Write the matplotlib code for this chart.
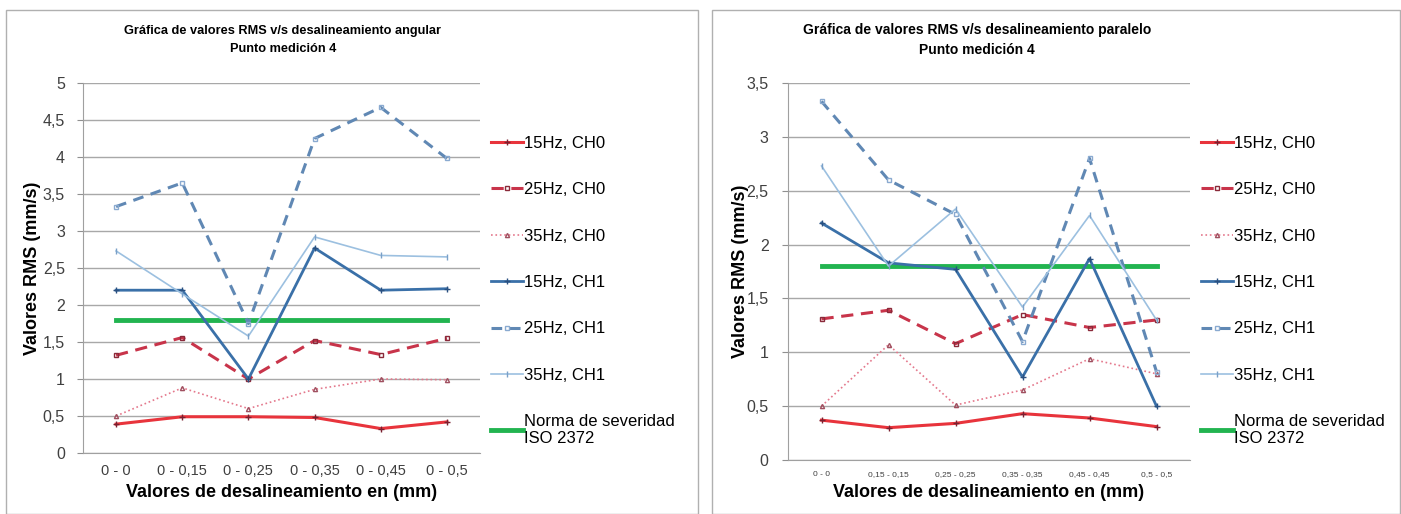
import matplotlib
matplotlib.use("Agg")
import matplotlib.pyplot as plt
from matplotlib.patches import Rectangle
from matplotlib.ticker import FuncFormatter

plt.rcParams['font.family'] = ['Liberation Sans', 'DejaVu Sans']

# angular misalignment chart
ang_labels = ["0 - 0", "0 - 0,15", "0 - 0,25", "0 - 0,35", "0 - 0,45", "0 - 0,5"]
ang_15_ch0 = [0.39, 0.49, 0.49, 0.48, 0.33, 0.42]
ang_25_ch0 = [1.32, 1.56, 1.00, 1.52, 1.33, 1.55]
ang_35_ch0 = [0.50, 0.88, 0.60, 0.86, 1.00, 0.99]
ang_15_ch1 = [2.20, 2.20, 1.00, 2.77, 2.20, 2.22]
ang_25_ch1 = [3.33, 3.65, 1.75, 4.25, 4.67, 3.98]
ang_35_ch1 = [2.73, 2.15, 1.58, 2.92, 2.67, 2.65]

# parallel misalignment chart
par_labels = ["0 - 0", "0,15 - 0,15", "0,25 - 0,25", "0,35 - 0,35", "0,45 - 0,45", "0,5 - 0,5"]
par_15_ch0 = [0.37, 0.30, 0.34, 0.43, 0.39, 0.31]
par_25_ch0 = [1.31, 1.39, 1.08, 1.35, 1.23, 1.30]
par_35_ch0 = [0.50, 1.07, 0.51, 0.65, 0.94, 0.80]
par_15_ch1 = [2.20, 1.83, 1.77, 0.77, 1.87, 0.50]
par_25_ch1 = [3.33, 2.60, 2.28, 1.10, 2.80, 0.82]
par_35_ch1 = [2.73, 1.80, 2.33, 1.42, 2.27, 1.30]

norma_iso = 1.8

series_names = ["15Hz, CH0", "25Hz, CH0", "35Hz, CH0",
                "15Hz, CH1", "25Hz, CH1", "35Hz, CH1"]
styles = [
    dict(color="#e8343c", ls="-", lw=2.2, marker="+", ms=5, mec="#7a2030"),
    dict(color="#c8344a", ls=(0, (4, 2.5)), lw=2.2, marker="s", ms=3, mec="#8a2a3a", mfc="none"),
    dict(color="#e4788c", ls=":", lw=1.2, marker="^", ms=3, mec="#a05060", mfc="none"),
    dict(color="#3a70a8", ls="-", lw=2.0, marker="+", ms=5, mec="#2a5080"),
    dict(color="#6088b4", ls=(0, (3.5, 2.5)), lw=2.2, marker="s", ms=3, mec="#8aaad0", mfc="none"),
    dict(color="#9cc0e0", ls="-", lw=1.2, marker="|", ms=5, mec="#7aa0c8"),
]

fmt = FuncFormatter(lambda v, p: ("%g" % v).replace(".", ","))

W, H = 1401, 514


def draw_chart(ax, labels, data, ymax, title, title_x, title_size, tick_size,
               ypad, ylab_x, legend_x):
    x = list(range(len(labels)))
    for vals, name, st in zip(data, series_names, styles):
        ax.plot(x, vals, label=name, zorder=3, **st)
    ax.plot(x, [norma_iso] * len(x), color="#22b450", lw=3.5,
            label="Norma de severidad\nISO 2372", zorder=2)
    ax.set_xlim(-0.5, len(labels) - 0.5)
    ax.set_ylim(0, ymax)
    ax.set_yticks([i * 0.5 for i in range(int(ymax / 0.5) + 1)])
    ax.yaxis.set_major_formatter(fmt)
    ax.set_xticks(x)
    ax.set_xticklabels(labels, fontsize=tick_size, color="#404040")
    ax.tick_params(axis="y", labelsize=11.5, colors="#404040", length=4,
                   color="#909090", pad=ypad)
    ax.tick_params(axis="x", length=0, pad=8)
    ax.grid(axis="y", color="#a8a8a8", lw=1)
    ax.set_axisbelow(True)
    for s in ["top", "right"]:
        ax.spines[s].set_visible(False)
    for s in ["left", "bottom"]:
        ax.spines[s].set_color("#a0a0a0")
    ax.set_ylabel("Valores RMS (mm/s)", fontsize=13, fontweight="bold")
    ax.yaxis.set_label_coords(ylab_x, 0.5)
    ax.set_xlabel("Valores de desalineamiento en (mm)", fontsize=13, fontweight="bold", labelpad=4)
    fig.text(title_x / W, 1 - 40 / H, title, ha="center", va="center",
             fontsize=title_size, fontweight="bold", linespacing=1.6)
    ax.legend(loc="upper left", bbox_to_anchor=(legend_x / W, 1 - 136 / H),
              bbox_transform=fig.transFigure, frameon=False, fontsize=12,
              handlelength=1.9, handletextpad=0.05, labelspacing=1.88,
              borderaxespad=0, borderpad=0)


fig = plt.figure(figsize=(14.01, 5.14), dpi=100)

ax1 = fig.add_axes([83 / W, 1 - 453 / H, 397 / W, 370 / H])
ax2 = fig.add_axes([788 / W, 1 - 460 / H, 402 / W, 377 / H])

draw_chart(ax1, ang_labels,
           [ang_15_ch0, ang_25_ch0, ang_35_ch0, ang_15_ch1, ang_25_ch1, ang_35_ch1],
           5, "Gráfica de valores RMS v/s desalineamiento angular\nPunto medición 4",
           283, 9.2, 10.5, 9, (41 - 83) / 397, 491)
draw_chart(ax2, par_labels,
           [par_15_ch0, par_25_ch0, par_35_ch0, par_15_ch1, par_25_ch1, par_35_ch1],
           3.5, "Gráfica de valores RMS v/s desalineamiento paralelo\nPunto medición 4",
           977, 10, 6, 10, (749 - 788) / 402, 1201)

# chart frames
fig.patches.append(Rectangle((6 / W, 0), 692 / W, 1 - 10 / H, transform=fig.transFigure,
                             fill=False, ec="#b0b0b0", lw=1))
fig.patches.append(Rectangle((712 / W, 0), 688 / W, 1 - 10 / H, transform=fig.transFigure,
                             fill=False, ec="#b0b0b0", lw=1))

fig.savefig("out.png", dpi=100)
